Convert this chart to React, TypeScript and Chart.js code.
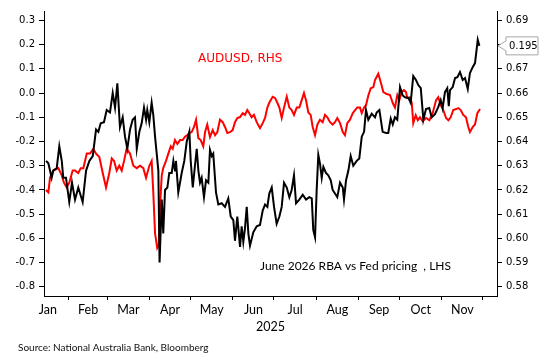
import React, { useEffect, useRef } from "react";
import { Chart, registerables } from "chart.js";

Chart.register(...registerables);

// ---- axis / label data ----
const monthLabels = ["Jan", "Feb", "Mar", "Apr", "May", "Jun", "Jul", "Aug", "Sep", "Oct", "Nov"];
// day-of-year (Jan 1 = 0) of each month start, Jan..Dec
const monthStartDays = [0, 31, 59, 90, 120, 151, 181, 212, 243, 273, 304, 334];
const xMinDay = 12.7;
const xMaxDay = 344.3;
const yearLabel = "2025";

const leftTicks = [-0.8, -0.7, -0.6, -0.5, -0.4, -0.3, -0.2, -0.1, 0.0, 0.1, 0.2, 0.3];
const rightTicks = [0.58, 0.59, 0.6, 0.61, 0.62, 0.63, 0.64, 0.65, 0.66, 0.67, 0.68, 0.69];
const hiddenRightTick = 0.68;
const leftMin = -0.838;
const leftMax = 0.339;
const rightMin = 0.5762;
const rightMax = 0.6939;

// ---- series: June 2026 RBA vs Fed pricing (LHS) ----
const blackDays = [
  14.2, 15.9, 18.3, 19.5, 22.0, 23.9, 25.7, 26.8, 28.8, 31.2,
  33.2, 35.4, 37.8, 41.0, 43.5, 45.9, 48.4, 50.8, 52.5, 54.2,
  56.6, 58.6, 61.0, 63.0, 64.7, 66.4, 68.3, 70.3, 72.0, 73.7,
  75.7, 77.6, 79.3, 80.6, 82.5, 84.2, 85.9, 87.4, 88.3, 89.8,
  91.5, 92.7, 94.0, 95.2, 96.4, 97.3, 98.9, 100.0, 101.3, 103.0,
  104.4, 106.2, 107.4, 108.6, 109.3, 111.0, 113.5, 115.4, 117.2, 119.1,
  120.1, 121.6, 123.2, 124.5, 125.7, 126.9, 128.1, 129.8, 131.3, 133.0,
  134.2, 135.5, 136.6, 138.6, 140.3, 142.8, 145.2, 147.6, 149.4, 151.3,
  152.5, 154.2, 156.2, 157.4, 158.6, 159.8, 161.1, 162.3, 163.5, 165.9,
  168.4, 170.8, 172.8, 174.5, 176.2, 177.6, 179.4, 181.1, 183.0, 185.0,
  186.7, 188.4, 190.4, 192.3, 194.0, 195.7, 197.2, 199.6, 202.1, 204.5,
  206.9, 208.7, 209.8, 211.1, 212.3, 213.5, 214.7, 216.0, 217.2, 219.1,
  220.8, 222.6, 224.0, 225.7, 227.4, 229.4, 231.4, 232.3, 233.8, 235.5,
  237.2, 239.1, 241.6, 243.5, 245.3, 247.0, 248.4, 250.1, 252.6, 255.0,
  256.2, 258.2, 260.6, 263.1, 264.7, 266.5, 268.0, 269.6, 271.3, 273.3,
  275.3, 277.0, 279.4, 281.1, 283.0, 285.0, 286.7, 288.5, 290.4, 292.3,
  294.7, 296.5, 298.9, 301.3, 303.1, 304.5, 306.2, 307.9, 309.0, 309.9,
  311.9, 313.6, 315.3, 317.2, 319.2, 320.9, 322.9, 324.5, 326.5, 328.2,
  329.5, 330.2, 331.4,
];
const blackVals = [
  -0.28, -0.29, -0.35, -0.32, -0.31, -0.22, -0.28, -0.35, -0.35, -0.45,
  -0.37, -0.44, -0.39, -0.45, -0.32, -0.28, -0.26, -0.15, -0.16, -0.125,
  -0.12, -0.07, -0.08, 0.0, -0.06, 0.04, -0.14, -0.1, -0.18, -0.23,
  -0.15, -0.11, -0.1, -0.23, -0.16, -0.125, -0.06, -0.11, -0.07, -0.12,
  -0.04, -0.09, -0.18, -0.25, -0.32, -0.7, -0.44, -0.58, -0.4, -0.39,
  -0.33, -0.33, -0.28, -0.32, -0.28, -0.41, -0.33, -0.28, -0.2, -0.16,
  -0.28, -0.39, -0.3, -0.23, -0.32, -0.37, -0.35, -0.43, -0.36, -0.37,
  -0.235, -0.26, -0.25, -0.41, -0.46, -0.455, -0.47, -0.435, -0.51, -0.525,
  -0.61, -0.51, -0.635, -0.55, -0.615, -0.56, -0.47, -0.58, -0.63, -0.575,
  -0.55, -0.545, -0.485, -0.46, -0.47, -0.415, -0.39, -0.47, -0.54, -0.51,
  -0.47, -0.37, -0.39, -0.43, -0.4, -0.34, -0.455, -0.44, -0.42, -0.44,
  -0.43, -0.435, -0.565, -0.595, -0.4, -0.255, -0.29, -0.35, -0.305, -0.33,
  -0.34, -0.36, -0.4, -0.415, -0.43, -0.37, -0.39, -0.44, -0.36, -0.32,
  -0.26, -0.3, -0.28, -0.27, -0.18, -0.16, -0.07, -0.11, -0.085, -0.1,
  -0.08, -0.07, -0.16, -0.165, -0.165, -0.105, -0.13, -0.1, -0.11, 0.025,
  -0.01, -0.017, -0.02, -0.04, 0.07, 0.054, 0.033, 0.02, -0.11, -0.066,
  -0.062, -0.1, -0.087, -0.058, -0.029, -0.062, 0.004, 0.02, -0.054, 0.012,
  0.025, 0.062, 0.066, 0.087, 0.054, 0.062, 0.017, 0.083, 0.107, 0.124,
  0.186, 0.22, 0.195,
];

// ---- series: AUDUSD (RHS) ----
const redDays = [
  14.2, 15.9, 17.1, 19.5, 23.2, 25.7, 27.3, 29.3, 31.2, 33.7,
  35.4, 37.8, 39.6, 41.5, 44.0, 46.4, 48.8, 50.8, 53.2, 55.7,
  58.1, 60.5, 62.3, 64.0, 65.9, 67.8, 69.6, 71.3, 73.2, 75.7,
  78.1, 80.6, 83.0, 85.4, 87.4, 89.8, 91.5, 92.7, 94.0, 95.6,
  96.7, 97.6, 98.9, 100.0, 102.0, 103.7, 105.5, 106.9, 108.6, 110.3,
  112.3, 114.2, 115.9, 117.6, 119.1, 120.8, 122.5, 124.0, 125.7, 127.4,
  129.3, 130.6, 132.2, 134.2, 136.2, 137.9, 139.6, 141.5, 143.5, 145.2,
  146.9, 148.9, 150.8, 152.5, 154.2, 156.2, 158.2, 159.8, 161.5, 163.0,
  164.7, 166.4, 168.4, 170.8, 172.8, 174.5, 176.2, 177.6, 180.1, 181.8,
  183.5, 185.0, 186.7, 188.4, 190.4, 192.3, 194.0, 195.7, 197.7, 199.6,
  201.3, 203.0, 204.5, 206.2, 207.9, 209.4, 211.1, 212.8, 214.7, 216.7,
  218.4, 220.1, 222.1, 224.0, 225.7, 227.4, 229.4, 231.4, 233.0, 234.7,
  236.7, 238.7, 240.4, 242.0, 244.0, 245.3, 247.0, 248.4, 250.1, 251.9,
  253.8, 255.0, 257.4, 259.2, 261.1, 263.6, 266.0, 268.0, 269.6, 271.3,
  272.8, 274.5, 276.2, 277.7, 278.6, 280.6, 281.9, 283.0, 284.8, 286.3,
  287.9, 289.9, 292.3, 294.8, 297.2, 299.7, 301.3, 303.1, 305.0, 307.0,
  308.7, 310.4, 312.3, 314.3, 316.0, 317.7, 319.6, 321.6, 323.3, 324.5,
  326.5, 328.2, 329.9, 331.9,
];
const redVals = [
  0.62, 0.619, 0.625, 0.628, 0.629, 0.626, 0.623, 0.621, 0.623, 0.628,
  0.628, 0.627, 0.629, 0.629, 0.635, 0.635, 0.637, 0.635, 0.6336, 0.627,
  0.621, 0.627, 0.633, 0.632, 0.628, 0.63, 0.628, 0.632, 0.637, 0.635,
  0.63, 0.629, 0.63, 0.629, 0.625, 0.63, 0.632, 0.619, 0.602, 0.596,
  0.597, 0.613, 0.626, 0.629, 0.632, 0.635, 0.638, 0.637, 0.6406, 0.639,
  0.6406, 0.6406, 0.642, 0.6426, 0.6435, 0.6439, 0.646, 0.649, 0.6414, 0.6406,
  0.638, 0.6439, 0.647, 0.6418, 0.6447, 0.6426, 0.6439, 0.649, 0.648, 0.646,
  0.6435, 0.6439, 0.6447, 0.648, 0.6497, 0.6501, 0.6517, 0.651, 0.653, 0.6517,
  0.65, 0.651, 0.648, 0.6455, 0.6476, 0.6497, 0.654, 0.656, 0.6585, 0.658,
  0.656, 0.654, 0.6497, 0.654, 0.6585, 0.654, 0.653, 0.651, 0.654, 0.654,
  0.657, 0.66, 0.657, 0.652, 0.651, 0.646, 0.6426, 0.647, 0.649, 0.648,
  0.651, 0.65, 0.648, 0.647, 0.648, 0.6497, 0.6476, 0.6439, 0.6426, 0.6476,
  0.649, 0.6517, 0.653, 0.654, 0.654, 0.6517, 0.654, 0.655, 0.659, 0.662,
  0.6625, 0.6654, 0.668, 0.6645, 0.6604, 0.6596, 0.6592, 0.6559, 0.654, 0.6592,
  0.6571, 0.6604, 0.6612, 0.6604, 0.658, 0.6583, 0.6559, 0.6476, 0.6509, 0.6488,
  0.65, 0.6484, 0.6497, 0.6488, 0.6517, 0.6571, 0.6583, 0.655, 0.653, 0.6497,
  0.6488, 0.65, 0.653, 0.6534, 0.6538, 0.653, 0.651, 0.65, 0.646, 0.6439,
  0.646, 0.647, 0.6517, 0.6534,
];

const blackLabel = "June 2026 RBA vs Fed pricing  , LHS";
const redLabel = "AUDUSD, RHS";
const sourceText = "Source: National Australia Bank, Bloomberg";

const tickFont = "DejaVu Sans";
const textFont = "Lato";

export default function App() {
  const canvasRef = useRef<HTMLCanvasElement | null>(null);

  useEffect(() => {
    const canvas = canvasRef.current;
    if (!canvas) return;

    const blackData = blackDays.map((d, i) => ({ x: d, y: blackVals[i] }));
    const redData = redDays.map((d, i) => ({ x: d, y: redVals[i] }));
    const midMonthDays = monthLabels.map((_, i) => (monthStartDays[i] + monthStartDays[i + 1]) / 2);
    const lastBlack = blackVals[blackVals.length - 1];

    const overlay = {
      id: "overlay",
      afterDraw(chart: any) {
        const ctx = chart.ctx;
        const area = chart.chartArea;
        ctx.save();
        // series labels
        ctx.textBaseline = "middle";
        ctx.textAlign = "left";
        ctx.fillStyle = "#ff0000";
        ctx.font = `12px "${tickFont}"`;
        ctx.fillText(redLabel, 198, 59);
        ctx.fillStyle = "#000";
        ctx.font = `12px "${textFont}"`;
        ctx.fillText(blackLabel, 260, 266);
        // source
        ctx.font = `10px "${textFont}"`;
        ctx.fillStyle = "#111";
        ctx.fillText(sourceText, 18, 348);
        // last value callout
        const yPix = chart.scales.y.getPixelForValue(lastBlack);
        const tipX = area.right + 1;
        const bx = area.right + 9;
        const bw = 32;
        const bh = 18;
        ctx.beginPath();
        ctx.moveTo(tipX, yPix);
        ctx.lineTo(bx, yPix - 5);
        ctx.lineTo(bx, yPix - bh / 2);
        ctx.lineTo(bx + bw, yPix - bh / 2);
        ctx.lineTo(bx + bw, yPix + bh / 2);
        ctx.lineTo(bx, yPix + bh / 2);
        ctx.lineTo(bx, yPix + 5);
        ctx.closePath();
        ctx.fillStyle = "#fff";
        ctx.fill();
        ctx.strokeStyle = "#a6a6a6";
        ctx.lineWidth = 1;
        ctx.stroke();
        ctx.fillStyle = "#000";
        ctx.font = `10px "${tickFont}"`;
        ctx.textAlign = "left";
        ctx.fillText(lastBlack.toFixed(3), bx + 3, yPix + 0.5);
        ctx.restore();
      },
    };

    const chart = new Chart(canvas, {
      type: "line",
      data: {
        datasets: [
          {
            label: blackLabel,
            data: blackData,
            borderColor: "#000000",
            borderWidth: 2,
            pointRadius: 0,
            tension: 0,
            xAxisID: "x",
            yAxisID: "y",
            order: 0,
          },
          {
            label: redLabel,
            data: redData,
            borderColor: "#ff0000",
            borderWidth: 2,
            pointRadius: 0,
            tension: 0,
            xAxisID: "x",
            yAxisID: "y2",
            order: 1,
          },
        ],
      },
      options: {
        animation: false,
        responsive: false,
        maintainAspectRatio: false,
        layout: { padding: { top: 11, bottom: 27, left: 0, right: 0 } },
        plugins: { legend: { display: false }, tooltip: { enabled: false }, title: { display: false } },
        scales: {
          x: {
            type: "linear",
            position: "bottom",
            min: xMinDay,
            max: xMaxDay,
            afterBuildTicks: (s: any) => {
              s.ticks = monthStartDays.filter((d) => d > xMinDay && d < xMaxDay).map((v) => ({ value: v }));
            },
            ticks: { display: false },
            grid: { drawOnChartArea: false, drawTicks: true, tickLength: 4, color: "#000", lineWidth: 1 },
            border: { display: true, color: "#000", width: 1 },
            afterFit: (s: any) => {
              s.height = 4;
            },
          },
          x2: {
            type: "linear",
            position: "bottom",
            min: xMinDay,
            max: xMaxDay,
            afterBuildTicks: (s: any) => {
              s.ticks = midMonthDays.map((v) => ({ value: v }));
            },
            ticks: {
              autoSkip: false,
              maxRotation: 0,
              padding: 2,
              color: "#000",
              font: { family: textFont, size: 12.5 },
              callback: (_v: any, i: number) => monthLabels[i],
            },
            grid: { display: false, drawTicks: false },
            border: { display: false },
            title: {
              display: true,
              text: yearLabel,
              color: "#000",
              font: { family: textFont, size: 12.5 },
              padding: 0,
            },
            afterFit: (s: any) => {
              s.height = 34;
            },
          },
          y: {
            position: "left",
            min: leftMin,
            max: leftMax,
            afterBuildTicks: (s: any) => {
              s.ticks = leftTicks.map((v) => ({ value: v }));
            },
            ticks: {
              color: "#000",
              padding: 4,
              font: { family: tickFont, size: 10 },
              callback: (v: any) => Number(v).toFixed(1),
            },
            grid: { drawOnChartArea: false, drawTicks: true, tickLength: 5, color: "#000" },
            border: { display: true, color: "#000", width: 1 },
            afterFit: (s: any) => {
              s.width = 44;
            },
          },
          y2: {
            position: "right",
            min: rightMin,
            max: rightMax,
            afterBuildTicks: (s: any) => {
              s.ticks = rightTicks.map((v) => ({ value: v }));
            },
            ticks: {
              color: "#000",
              padding: 4,
              font: { family: tickFont, size: 10 },
              callback: (v: any) => (Math.abs(Number(v) - hiddenRightTick) < 1e-6 ? "" : Number(v).toFixed(2)),
            },
            grid: { drawOnChartArea: false, drawTicks: true, tickLength: 5, color: "#000" },
            border: { display: true, color: "#000", width: 1 },
            afterFit: (s: any) => {
              s.width = 56;
            },
          },
        },
      },
      plugins: [overlay],
    } as any);

    return () => chart.destroy();
  }, []);

  return (
    <div style={{ position: "absolute", left: 0, top: 0, width: 553, height: 361, background: "#fff" }}>
      <canvas ref={canvasRef} width={553} height={361} style={{ display: "block" }} />
    </div>
  );
}
